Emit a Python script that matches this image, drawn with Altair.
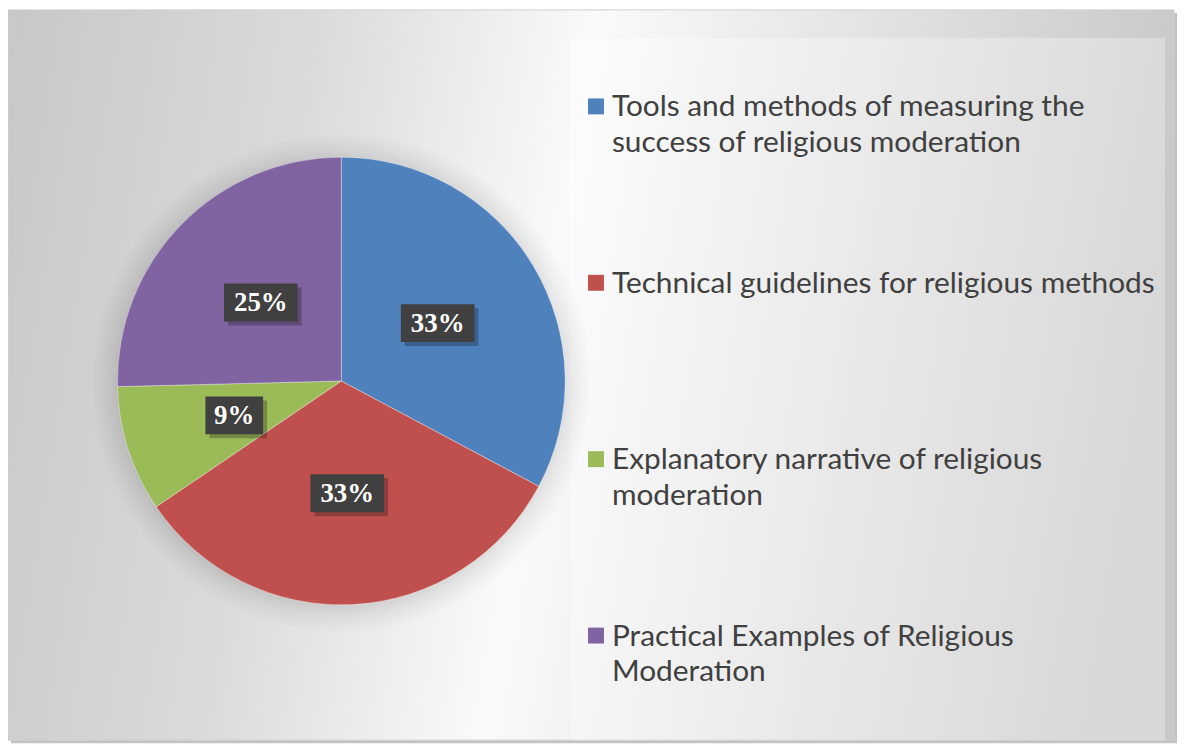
import altair as alt
import pandas as pd

# ---------------- data ----------------
categories = [
    "Tools and methods of measuring the success of religious moderation",
    "Technical guidelines for religious methods",
    "Explanatory narrative of religious moderation",
    "Practical Examples of Religious Moderation",
]
legend_text = [
    "Tools and methods of measuring the\nsuccess of religious moderation",
    "Technical guidelines for religious methods",
    "Explanatory narrative of religious\nmoderation",
    "Practical Examples of Religious\nModeration",
]
shares = [32.8, 32.7, 9.1, 25.4]
colors = ["#4F81BD", "#C0504D", "#9BBB59", "#8064A2"]

df = pd.DataFrame({
    "idx": list(range(len(categories))),
    "cat": categories,
    "leg": legend_text,
    "share": shares,
})

# ---------------- layout constants (chart pixel coords) ----------------
W, H = 1178, 740
CX, CY, R = 335, 373, 225          # pie centre / radius
LR = 113                            # data-label radius
LEG_X_SQ, LEG_X_TXT = 583, 607
LEG_Y0, LEG_STEP = 97, 177.3
one = pd.DataFrame({"k": [0]})

color = alt.Color("cat:N", scale=alt.Scale(domain=categories, range=colors), legend=None)

# ---------------- background ----------------
frame_shadow = alt.Chart(one).mark_rect(fill="#b4b4b4", opacity=0.8).encode(
    x=alt.value(3), x2=alt.value(1175), y=alt.value(3), y2=alt.value(737))

grad = {
    "gradient": "linear", "x1": 0, "y1": 0.1, "x2": 1, "y2": 0.2,
    "stops": [
        {"offset": 0, "color": "#c8c8c8"},
        {"offset": 0.25, "color": "#dadada"},
        {"offset": 0.49, "color": "#fafafa"},
        {"offset": 0.75, "color": "#e0e0e0"},
        {"offset": 1, "color": "#c8c8c8"},
    ],
}
frame = alt.Chart(one).mark_rect(fill=grad, stroke="#d0d0d0", strokeWidth=1).encode(
    x=alt.value(0), x2=alt.value(1172), y=alt.value(0), y2=alt.value(734))

legend_box = alt.Chart(one).mark_rect(fill="#ffffff", opacity=0.3).encode(
    x=alt.value(565), x2=alt.value(1163), y=alt.value(28), y2=alt.value(734))

halo_layers = []
for rr in [250, 246, 242, 238, 235, 232, 229, 227]:
    halo_layers.append(
        alt.Chart(one).mark_arc(theta=0, theta2=6.2832, outerRadius=rr,
                                fill="#000000", opacity=0.012)
        .encode(x=alt.value(CX), y=alt.value(CY + 2))
    )

# ---------------- pie ----------------
base = alt.Chart(df)
pie = base.mark_arc(outerRadius=R, stroke="#ffffff", strokeWidth=0.6, strokeOpacity=0.6).encode(
    theta=alt.Theta("share:Q", stack=True),
    order=alt.Order("idx:Q"),
    color=color,
    x=alt.value(CX), y=alt.value(CY),
)

lab = (
    base.transform_window(cum="sum(share)", sort=[alt.SortField("idx")], frame=[None, 0])
    .transform_joinaggregate(total="sum(share)")
    .transform_calculate(
        mid="(datum.cum - datum.share/2) / datum.total * 2 * PI",
        lx=f"{CX} + {LR} * sin(datum.mid)",
        ly=f"{CY} - {LR} * cos(datum.mid)",
        label="format(datum.share / datum.total, '.0%')",
    )
    .transform_calculate(bw="26 + 16 * length(datum.label)")
    .transform_calculate(
        bx1="datum.lx - datum.bw / 2", bx2="datum.lx + datum.bw / 2",
        by1="datum.ly - 19", by2="datum.ly + 19",
        sx1="datum.lx - datum.bw / 2 + 4", sx2="datum.lx + datum.bw / 2 + 4",
        sy1="datum.ly - 15", sy2="datum.ly + 23",
    )
)
box_shadow = lab.mark_rect(fill="#000000", opacity=0.25).encode(
    x=alt.X("sx1:Q", scale=None, axis=None), x2="sx2:Q",
    y=alt.Y("sy1:Q", scale=None, axis=None), y2="sy2:Q")
boxes = lab.mark_rect(fill="#404040").encode(
    x=alt.X("bx1:Q", scale=None, axis=None), x2="bx2:Q",
    y=alt.Y("by1:Q", scale=None, axis=None), y2="by2:Q")
labels = lab.mark_text(font="Liberation Serif", fontWeight="bold", fontSize=27,
                       color="#ffffff", align="center", baseline="middle", dy=1).encode(
    x=alt.X("lx:Q", scale=None, axis=None), y=alt.Y("ly:Q", scale=None, axis=None),
    text="label:N")

# ---------------- legend (manual) ----------------
leg = base.transform_calculate(
    cy=f"{LEG_Y0} + datum.idx * {LEG_STEP}",
).transform_calculate(
    q1=f"{LEG_X_SQ}", q2=f"{LEG_X_SQ + 16}",
    qy1="datum.cy - 8", qy2="datum.cy + 8",
    tx=f"{LEG_X_TXT}", ty="datum.cy + 10",
)
leg_sq = leg.mark_rect().encode(
    x=alt.X("q1:Q", scale=None, axis=None), x2="q2:Q",
    y=alt.Y("qy1:Q", scale=None, axis=None), y2="qy2:Q",
    color=color)
leg_txt = leg.mark_text(font="Lato", fontSize=30, color="#404040", align="left",
                        baseline="alphabetic", lineBreak="\n", lineHeight=36).encode(
    x=alt.X("tx:Q", scale=None, axis=None), y=alt.Y("ty:Q", scale=None, axis=None),
    text="leg:N")

chart = alt.layer(
    frame_shadow, frame, legend_box, *halo_layers, pie,
    box_shadow, boxes, labels, leg_sq, leg_txt,
).properties(
    width=W, height=H, padding=0, autosize=alt.AutoSizeParams(type="none"),
    background="#ffffff",
).configure_view(stroke=None)

chart.save("out.html", embed_options={"renderer": "svg", "actions": False})
